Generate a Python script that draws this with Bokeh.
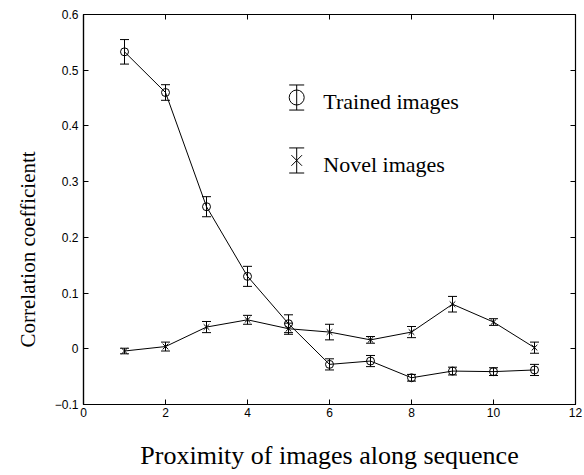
from bokeh.plotting import figure
from bokeh.models import (ColumnDataSource, Whisker, TeeHead, LinearAxis, Range1d,
                          FixedTicker, Label, Title)
from bokeh.embed import file_html
from bokeh.resources import INLINE

# ---- data ----
proximity = [1, 2, 3, 4, 5, 6, 7, 8, 9, 10, 11]
trained_mean = [0.533, 0.460, 0.255, 0.130, 0.045, -0.028, -0.022, -0.052, -0.040, -0.041, -0.038]
trained_err = [0.022, 0.014, 0.018, 0.018, 0.016, 0.010, 0.010, 0.006, 0.007, 0.007, 0.010]
novel_mean = [-0.004, 0.004, 0.039, 0.052, 0.036, 0.030, 0.016, 0.030, 0.080, 0.048, 0.002]
novel_err = [0.005, 0.008, 0.010, 0.008, 0.010, 0.014, 0.006, 0.010, 0.014, 0.006, 0.010]
x_ticks = [0, 2, 4, 6, 8, 10, 12]
y_ticks = [-0.1, 0, 0.1, 0.2, 0.3, 0.4, 0.5, 0.6]
series_names = ["Trained images", "Novel images"]
x_title = "Proximity of images along sequence"
y_title = "Correlation coefficientt"
# legend anchor (data units)
legend_x = 5.2
legend_text_x = 5.85
legend_y = [0.451, 0.338]
legend_text_y = [0.443, 0.330]
legend_half = 0.0225

TICK_FONT = "Liberation Sans"
LABEL_FONT = "Liberation Serif"

p = figure(frame_width=492, frame_height=390, output_backend="svg", toolbar_location=None,
           x_range=Range1d(0, 12), y_range=Range1d(-0.1, 0.6),
           x_axis_label=x_title,
           min_border_left=83, min_border_top=14, min_border_right=9, min_border_bottom=66)
p.background_fill_color = "white"
p.border_fill_color = "white"
p.grid.visible = False
p.outline_line_color = "black"
p.outline_line_width = 1.2

xb = p.xaxis[0]
yl = p.yaxis[0]
xb.ticker = FixedTicker(ticks=x_ticks)
yl.ticker = FixedTicker(ticks=y_ticks)
for ax in (xb, yl):
    ax.major_tick_in = 5
    ax.major_tick_out = 0
    ax.minor_tick_line_color = None
    ax.axis_line_color = "black"
    ax.axis_line_width = 1.2
    ax.major_tick_line_color = "black"
    ax.major_label_text_font = TICK_FONT
    ax.major_label_text_font_size = "12px"
    ax.major_label_text_color = "black"
    ax.axis_label_text_font = LABEL_FONT
    ax.axis_label_text_font_style = "normal"
    ax.axis_label_text_color = "black"
xb.axis_label_text_font_size = "26px"
xb.major_label_standoff = 3
xb.axis_label_standoff = 21
yl.major_label_standoff = 5
yl.major_label_overrides = {-0.1: "\u22120.1"}

xt = LinearAxis(ticker=FixedTicker(ticks=x_ticks))
yr = LinearAxis(ticker=FixedTicker(ticks=y_ticks))
for ax in (xt, yr):
    ax.major_tick_in = 5
    ax.major_tick_out = 0
    ax.minor_tick_line_color = None
    ax.axis_line_color = "black"
    ax.major_tick_line_color = "black"
    ax.major_label_text_font_size = "2px"
    ax.major_label_text_color = None
    ax.major_label_standoff = 0
p.add_layout(xt, "above")
p.add_layout(yr, "right")

# y-axis title as a side-panel title (starts 57px above the frame bottom)
p.add_layout(Title(text=y_title, align="left", offset=57, text_font=LABEL_FONT,
                   text_font_size="21px", text_font_style="normal",
                   text_color="black", standoff=23), "left")

# ---- data sources ----
src_t = ColumnDataSource(dict(x=proximity, y=trained_mean,
                              lo=[m - e for m, e in zip(trained_mean, trained_err)],
                              hi=[m + e for m, e in zip(trained_mean, trained_err)]))
src_n = ColumnDataSource(dict(x=proximity, y=novel_mean,
                              lo=[m - e for m, e in zip(novel_mean, novel_err)],
                              hi=[m + e for m, e in zip(novel_mean, novel_err)]))

for src, marker in ((src_t, "circle"), (src_n, "x")):
    p.line("x", "y", source=src, line_color="black", line_width=1)
    w = Whisker(base="x", lower="lo", upper="hi", source=src, dimension="height",
                line_color="black", line_width=1,
                upper_head=TeeHead(size=9, line_color="black", line_width=1),
                lower_head=TeeHead(size=9, line_color="black", line_width=1))
    p.add_layout(w)
    p.scatter("x", "y", source=src, marker=marker, size=8, fill_color=None,
              line_color="black", line_width=1)

# ---- legend (manual, MATLAB style) ----
for yy, ty, marker, name in zip(legend_y, legend_text_y, ["circle", "x"], series_names):
    ls = ColumnDataSource(dict(x=[legend_x], y=[yy], lo=[yy - legend_half], hi=[yy + legend_half]))
    p.add_layout(Whisker(base="x", lower="lo", upper="hi", source=ls, dimension="height",
                         line_color="black", line_width=1,
                         upper_head=TeeHead(size=15, line_color="black", line_width=1),
                         lower_head=TeeHead(size=15, line_color="black", line_width=1)))
    p.scatter("x", "y", source=ls, marker=marker, size=15, fill_color=None,
              line_color="black", line_width=1)
    p.add_layout(Label(x=legend_text_x, y=ty, text=name, text_font=LABEL_FONT,
                       text_font_size="22px", text_baseline="alphabetic", text_color="black"))

open("out.html", "w").write(file_html(p, INLINE))
